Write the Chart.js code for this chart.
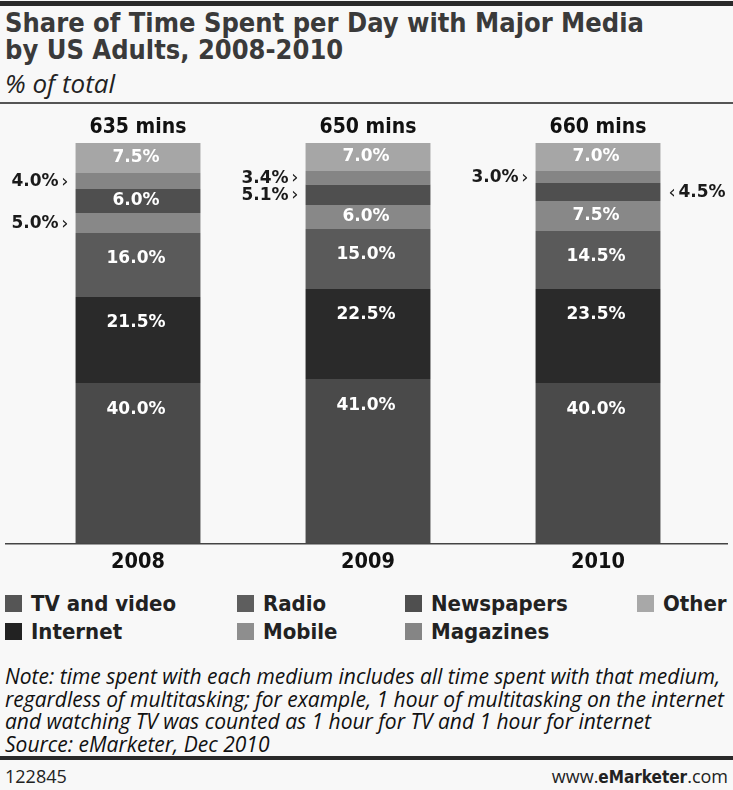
<!DOCTYPE html>
<html>
<head>
<meta charset="utf-8">
<script src="https://cdn.jsdelivr.net/npm/chart.js@4.4.1/dist/chart.umd.min.js"></script>
<style>
  body { margin: 0; background: #f8f8f8; }
  #wrap { position: relative; width: 733px; height: 790px; background: #f8f8f8; overflow: hidden; }
  .topbar { position: absolute; left: 0; top: 1px; width: 733px; height: 5px; background: #2a2a2a; }
  .title { position: absolute; left: 5px; top: 9px; font: bold 27px "DejaVu Sans Condensed", "DejaVu Sans", sans-serif; color: #3a3a3a; line-height: 27px; }
  .subtitle { position: absolute; left: 5px; top: 65px; font: italic 26px "Liberation Sans Narrow", "Open Sans", sans-serif; color: #222; }
  .rule { position: absolute; left: 0; top: 102px; width: 733px; height: 2px; background: #555; }
  #chartBox { position: absolute; left: 0; top: 112px; width: 733px; height: 470px; }
  #legend { position: absolute; left: 0; top: 591px; width: 733px; }
  .lg { position: absolute; font: bold 22px "DejaVu Sans Condensed", "DejaVu Sans", sans-serif; color: #222; white-space: nowrap; }
  .lg span { display: inline-block; width: 17px; height: 17px; margin-right: 9px; vertical-align: -1px; }
  .note { position: absolute; left: 5px; top: 665px; font: italic 21px "Liberation Sans Narrow", "Open Sans", sans-serif; color: #111; line-height: 22.7px; white-space: nowrap; }
  .footbar { position: absolute; left: 0; top: 756px; width: 733px; height: 4px; background: #2a2a2a; }
  .foot { position: absolute; top: 764px; font: 18px "Liberation Sans Narrow", "Open Sans", sans-serif; color: #222; }
</style>
</head>
<body>
<div id="wrap">
  <div class="topbar"></div>
  <div class="title">Share of Time Spent per Day with Major Media<br>by US Adults, 2008-2010</div>
  <div class="subtitle">% of total</div>
  <div class="rule"></div>
  <div id="chartBox"><canvas id="mediaChart" width="733" height="469"></canvas></div>
  <div id="legend"></div>
  <div class="note">Note: time spent with each medium includes all time spent with that medium,<br>regardless of multitasking; for example, 1 hour of multitasking on the internet<br>and watching TV was counted as 1 hour for TV and 1 hour for internet<br>Source: eMarketer, Dec 2010</div>
  <div class="footbar"></div>
  <div class="foot" style="left:5px">122845</div>
  <div class="foot" style="right:5px">www.<b style="font-family:'DejaVu Sans Condensed','DejaVu Sans',sans-serif;font-size:17px">eMarketer</b>.com</div>
</div>

<script>
const years = ['2008', '2009', '2010'];
const totals = ['635 mins', '650 mins', '660 mins'];

// stacked bottom to top
const tvVideo    = [40.0, 41.0, 40.0];
const internet   = [21.5, 22.5, 23.5];
const radio      = [16.0, 15.0, 14.5];
const mobile     = [5.0, 6.0, 7.5];
const newspapers = [6.0, 5.1, 4.5];
const magazines  = [4.0, 3.4, 3.0];
const other      = [7.5, 7.0, 7.0];

const series = [
    { label: 'TV and video', data: tvVideo,    color: '#4a4a4a', swatch: '#555555' },
    { label: 'Internet',     data: internet,   color: '#2a2a2a', swatch: '#222222' },
    { label: 'Radio',        data: radio,      color: '#5a5a5a', swatch: '#5e5e5e' },
    { label: 'Mobile',       data: mobile,     color: '#888888', swatch: '#8e8e8e' },
    { label: 'Newspapers',   data: newspapers, color: '#4f4f4f', swatch: '#4f4f4f' },
    { label: 'Magazines',    data: magazines,  color: '#858585', swatch: '#858585' },
    { label: 'Other',        data: other,      color: '#a6a6a6', swatch: '#a8a8a8' }
];

// legend grid: [series label, column x, row]
const legendOrder = [
    ['TV and video', 5, 0], ['Radio', 237, 0], ['Newspapers', 405, 0], ['Other', 637, 0],
    ['Internet', 5, 1], ['Mobile', 237, 1], ['Magazines', 405, 1]
];

// small segments get a callout; these ones go on the right side
const rightCallouts = [['Newspapers', 2]];

const barLabels = {
    id: 'barLabels',
    afterDatasetsDraw(chart) {
        const ctx = chart.ctx;
        ctx.save();
        ctx.textBaseline = 'middle';
        chart.data.datasets.forEach((ds, i) => {
            const meta = chart.getDatasetMeta(i);
            meta.data.forEach((bar, j) => {
                const v = ds.data[j];
                const top = Math.min(bar.y, bar.base);
                const bottom = Math.max(bar.y, bar.base);
                const text = v.toFixed(1) + '%';
                if (v >= 5.5) {
                    ctx.fillStyle = '#ffffff';
                    ctx.font = 'bold 17px "DejaVu Sans", sans-serif';
                    ctx.textAlign = 'center';
                    ctx.fillText(text, bar.x - 2, Math.min((top + bottom) / 2, top + 26));
                } else {
                    const y = (top + bottom) / 2 + 1;
                    const right = rightCallouts.some(r => r[0] === ds.label && r[1] === j);
                    ctx.fillStyle = '#1a1a1a';
                    if (right) {
                        const x0 = bar.x + bar.width / 2 + 8;
                        ctx.font = '18px "DejaVu Sans", sans-serif';
                        ctx.textAlign = 'left';
                        ctx.fillText('‹', x0, y);
                        ctx.font = 'bold 17px "DejaVu Sans", sans-serif';
                        ctx.fillText(text, x0 + 10, y);
                    } else {
                        const x0 = bar.x - bar.width / 2 - 7;
                        ctx.font = '18px "DejaVu Sans", sans-serif';
                        ctx.textAlign = 'right';
                        ctx.fillText('›', x0, y);
                        ctx.font = 'bold 17px "DejaVu Sans", sans-serif';
                        ctx.fillText(text, x0 - 10, y);
                    }
                }
            });
        });
        // totals above each bar
        const last = chart.getDatasetMeta(chart.data.datasets.length - 1);
        ctx.fillStyle = '#111111';
        ctx.font = 'bold 21px "DejaVu Sans Condensed", "DejaVu Sans", sans-serif';
        ctx.textAlign = 'center';
        last.data.forEach((bar, j) => {
            ctx.fillText(totals[j], bar.x, Math.min(bar.y, bar.base) - 15);
        });
        // baseline
        const yb = chart.scales.y.getPixelForValue(0);
        ctx.strokeStyle = '#444444';
        ctx.lineWidth = 1.5;
        ctx.beginPath();
        ctx.moveTo(5, yb + 0.5);
        ctx.lineTo(728, yb + 0.5);
        ctx.stroke();
        ctx.restore();
    }
};

const ctx = document.getElementById('mediaChart').getContext('2d');
new Chart(ctx, {
    type: 'bar',
    data: {
        labels: years,
        datasets: series.map(s => ({
            label: s.label,
            data: s.data,
            backgroundColor: s.color,
            borderWidth: 0,
            barPercentage: 1,
            categoryPercentage: 0.543
        }))
    },
    options: {
        responsive: false,
        animation: false,
        layout: { padding: { top: 31, left: 23, right: 20, bottom: 0 } },
        plugins: {
            legend: { display: false },
            tooltip: { enabled: false }
        },
        scales: {
            x: {
                stacked: true,
                grid: { display: false, drawTicks: false },
                border: { display: false },
                ticks: {
                    color: '#111111',
                    font: { family: '"DejaVu Sans Condensed", "DejaVu Sans", sans-serif', size: 21.5, weight: 'bold' },
                    padding: 6
                }
            },
            y: {
                stacked: true,
                display: false,
                min: 0,
                max: 100
            }
        }
    },
    plugins: [barLabels]
});

// HTML legend
const legendBox = document.getElementById('legend');
legendOrder.forEach(([name, x, row]) => {
    const s = series.find(d => d.label === name);
    const el = document.createElement('div');
    el.className = 'lg';
    el.style.left = x + 'px';
    el.style.top = (row * 28) + 'px';
    el.innerHTML = `<span style="background:${s.swatch}"></span>${name}`;
    legendBox.appendChild(el);
});
</script>
</body>
</html>
